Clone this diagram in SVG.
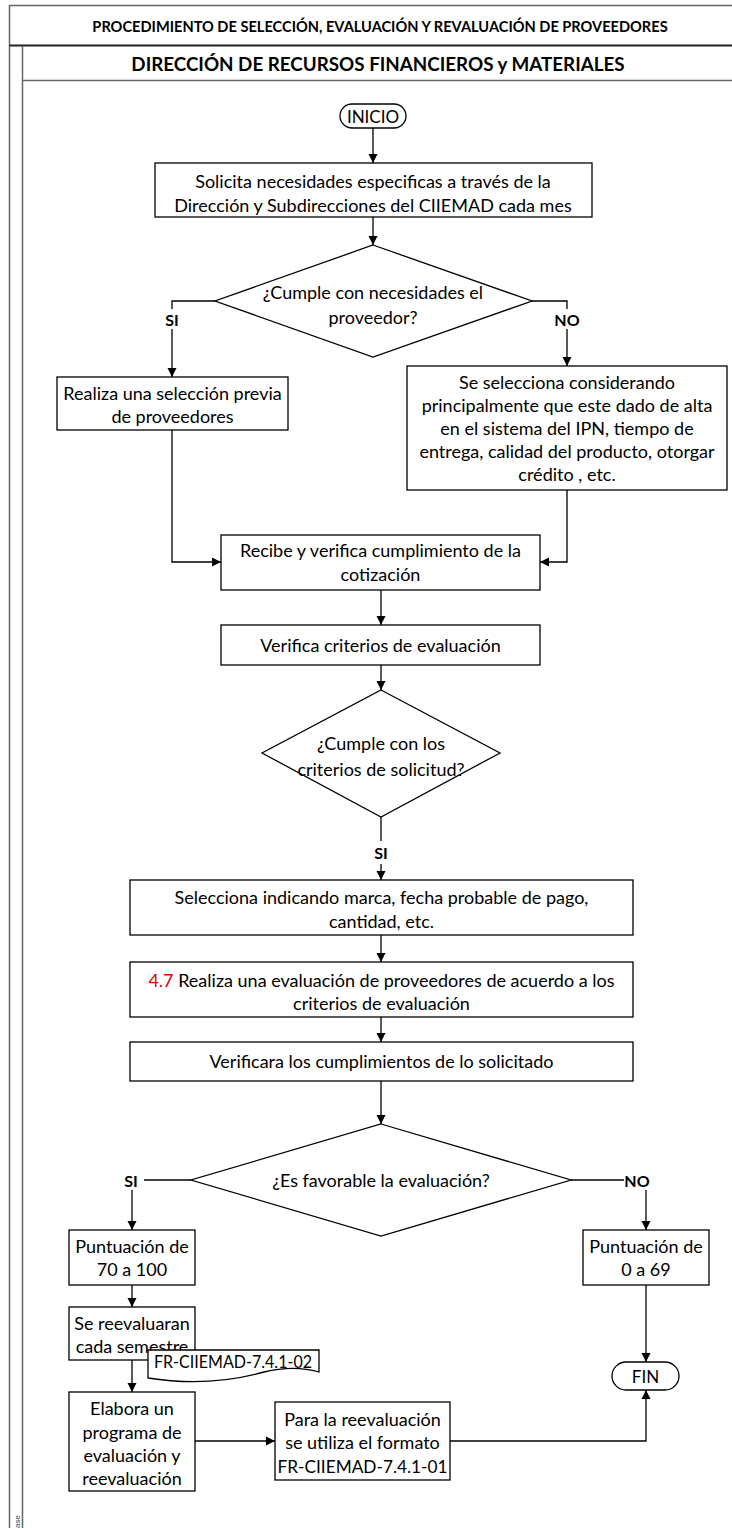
<svg xmlns="http://www.w3.org/2000/svg" width="732" height="1528" viewBox="0 0 732 1528">
<defs>
<marker id="arr" markerWidth="10" markerHeight="10" refX="9" refY="5" orient="auto" markerUnits="userSpaceOnUse">
<path d="M0,0.5 L9,5 L0,9.5 Z" fill="#000"/>
</marker>
<style>
.frame{stroke:#666;stroke-width:1.5;fill:none}
.box{fill:#fff;stroke:#000;stroke-width:1.3}
.t{font-family:Lato,"Liberation Sans",sans-serif;font-size:18px;fill:#000;text-anchor:middle;dominant-baseline:central}
.lbl{font-family:Lato,"Liberation Sans",sans-serif;font-size:16px;font-weight:bold;fill:#000;text-anchor:middle;dominant-baseline:central}
.c{fill:none;stroke:#000;stroke-width:1.3}
.ca{fill:none;stroke:#000;stroke-width:1.3;marker-end:url(#arr)}
</style>
</defs>
<rect width="732" height="1528" fill="#fff"/>
<g id="frame">
<path class="frame" d="M732,5.5 H9.5 V1528"/>
<path d="M9.5,45.5 H732" stroke="#222" stroke-width="1.8" fill="none"/>
<path class="frame" d="M22.5,46 V1528 M22.5,80.5 H732"/>
<text x="380" y="26" font-family="Lato,'Liberation Sans',sans-serif" font-size="14.6" font-weight="bold" text-anchor="middle" dominant-baseline="central">PROCEDIMIENTO DE SELECCIÓN, EVALUACIÓN Y REVALUACIÓN DE PROVEEDORES</text>
<text x="378" y="63" font-family="Lato,'Liberation Sans',sans-serif" font-size="18.8" font-weight="bold" text-anchor="middle" dominant-baseline="central">DIRECCIÓN DE RECURSOS FINANCIEROS y MATERIALES</text>
<text transform="translate(17,1528) rotate(-90)" font-family="'Liberation Sans',sans-serif" font-size="8" fill="#444" dominant-baseline="central">ase</text>
</g>
<g id="connectors">
<path class="ca" d="M373,128 V163"/>
<path class="ca" d="M373,217 V245"/>
<path class="c" d="M215,301 H172 V309"/>
<path class="ca" d="M172,329 V377"/>
<path class="c" d="M532,301 H567 V309"/>
<path class="ca" d="M567,329 V366"/>
<path class="ca" d="M172,430 V562 H221"/>
<path class="ca" d="M567,490 V562 H540"/>
<path class="ca" d="M381,590 V625"/>
<path class="ca" d="M381,665 V690"/>
<path class="c" d="M381,817 V841"/>
<path class="ca" d="M381,864 V880"/>
<path class="ca" d="M381,935 V962"/>
<path class="ca" d="M381,1017 V1042"/>
<path class="ca" d="M381,1081 V1124"/>
<path class="c" d="M191,1180 H144"/>
<path class="ca" d="M132,1190 V1230"/>
<path class="c" d="M571,1180 H624"/>
<path class="ca" d="M646,1190 V1230"/>
<path class="ca" d="M132,1285 V1307"/>
<path class="ca" d="M132,1360 V1392"/>
<path class="ca" d="M195,1441 H275"/>
<path class="ca" d="M450,1441 H646 V1390"/>
<path class="ca" d="M646,1285 V1362"/>
<text class="lbl" x="172" y="319">SI</text>
<text class="lbl" x="567" y="319">NO</text>
<text class="lbl" x="381" y="852">SI</text>
<text class="lbl" x="131" y="1180">SI</text>
<text class="lbl" x="637" y="1180">NO</text>
</g>
<g id="inicio">
<rect class="box" x="340" y="104" width="66" height="24" rx="12"/>
<text class="t" x="373" y="116" style="font-size:17px">INICIO</text>
</g>
<g id="solicita">
<rect class="box" x="155" y="163" width="437" height="54"/>
<text class="t" x="373" y="181">Solicita necesidades especificas a través de la</text>
<text class="t" x="373" y="205">Dirección  y Subdirecciones del CIIEMAD cada mes</text>
</g>
<g id="decision1">
<path class="box" d="M373,245 L532,301 L373,357 L215,301 Z"/>
<text class="t" x="373" y="292">¿Cumple con necesidades el</text>
<text class="t" x="373" y="317">proveedor?</text>
</g>
<g id="seleccion-previa">
<rect class="box" x="57" y="377" width="231" height="53"/>
<text class="t" x="172.5" y="393">Realiza una selección previa</text>
<text class="t" x="172.5" y="416">de proveedores</text>
</g>
<g id="selecciona-considerando">
<rect class="box" x="407" y="366" width="320" height="124"/>
<text class="t" x="567" y="382">Se selecciona considerando</text>
<text class="t" x="567" y="405">principalmente  que  este dado de alta</text>
<text class="t" x="567" y="428">en el sistema del IPN, tiempo de</text>
<text class="t" x="567" y="451">entrega, calidad del producto, otorgar</text>
<text class="t" x="567" y="474">crédito , etc.</text>
</g>
<g id="recibe">
<rect class="box" x="221" y="535" width="319" height="55"/>
<text class="t" x="380.5" y="550">Recibe y  verifica cumplimiento de la</text>
<text class="t" x="380.5" y="574">cotización</text>
</g>
<g id="verifica">
<rect class="box" x="221" y="625" width="319" height="40"/>
<text class="t" x="380.5" y="645">Verifica criterios de evaluación</text>
</g>
<g id="decision2">
<path class="box" d="M381,690 L500,753 L381,817 L262,753 Z"/>
<text class="t" x="381" y="743">¿Cumple con los</text>
<text class="t" x="381" y="769">criterios de solicitud?</text>
</g>
<g id="selecciona-marca">
<rect class="box" x="130" y="880" width="503" height="55"/>
<text class="t" x="381.5" y="897">Selecciona indicando marca, fecha probable de pago,</text>
<text class="t" x="381.5" y="921">cantidad, etc.</text>
</g>
<g id="evaluacion">
<rect class="box" x="130" y="962" width="503" height="55"/>
<text class="t" x="381.5" y="980"><tspan fill="#e00000">4.7</tspan> Realiza una evaluación de proveedores de acuerdo a los</text>
<text class="t" x="381.5" y="1003">criterios de evaluación</text>
</g>
<g id="verificara">
<rect class="box" x="130" y="1042" width="503" height="39"/>
<text class="t" x="381.5" y="1061">Verificara los cumplimientos de lo solicitado</text>
</g>
<g id="decision3">
<path class="box" d="M381,1124 L571,1180 L381,1236 L191,1180 Z"/>
<text class="t" x="381" y="1180">¿Es favorable la evaluación?</text>
</g>
<g id="puntuacion-alta">
<rect class="box" x="69" y="1230" width="126" height="55"/>
<text class="t" x="132" y="1246">Puntuación de</text>
<text class="t" x="132" y="1269">70 a 100</text>
</g>
<g id="reevaluaran">
<rect class="box" x="69" y="1307" width="126" height="53"/>
<text class="t" x="132" y="1323">Se reevaluaran</text>
<text class="t" x="132" y="1346">cada semestre</text>
</g>
<g id="doc-02">
<path class="box" d="M148,1350 H319 V1372 C302,1367 284,1367 264,1372 C232,1381 192,1385 148,1378 Z"/>
<text class="t" x="233" y="1361" style="font-size:17px" textLength="158" lengthAdjust="spacingAndGlyphs">FR-CIIEMAD-7.4.1-02</text>
</g>
<g id="elabora">
<rect class="box" x="69" y="1392" width="126" height="99"/>
<text class="t" x="132" y="1408">Elabora un</text>
<text class="t" x="132" y="1432">programa de</text>
<text class="t" x="132" y="1455">evaluación y</text>
<text class="t" x="132" y="1478">reevaluación</text>
</g>
<g id="formato">
<rect class="box" x="275" y="1402" width="175" height="78"/>
<text class="t" x="362.5" y="1419">Para la reevaluación</text>
<text class="t" x="362.5" y="1442">se utiliza el formato</text>
<text class="t" x="362.5" y="1466" textLength="170" lengthAdjust="spacingAndGlyphs">FR-CIIEMAD-7.4.1-01</text>
</g>
<g id="puntuacion-baja">
<rect class="box" x="583" y="1230" width="126" height="55"/>
<text class="t" x="646" y="1246">Puntuación de</text>
<text class="t" x="646" y="1269">0 a 69</text>
</g>
<g id="fin">
<rect class="box" x="612" y="1362" width="67" height="28" rx="14"/>
<text class="t" x="645.5" y="1376" style="font-size:17px">FIN</text>
</g>
</svg>
